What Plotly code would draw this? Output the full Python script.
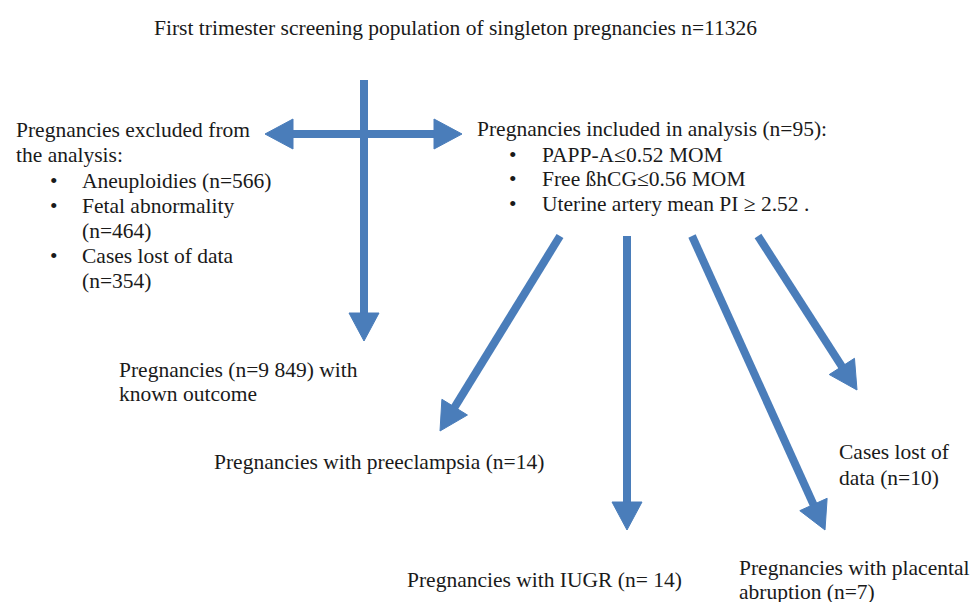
import numpy as np
import plotly.graph_objects as go

# ---- data (counts shown in the flowchart) ----
n_screened = 11326
n_aneuploidies = 566
n_fetal_abn = 464
n_lost_excl = 354
n_known_outcome = 9849
n_included = 95
n_preeclampsia = 14
n_iugr = 14
n_abruption = 7
n_lost_incl = 10
papp_a_cut = 0.52
bhcg_cut = 0.56
ut_pi_cut = 2.52

def fmt_space(n):
    return f"{n:,}".replace(",", " ")

title_text = f"First trimester screening population of singleton pregnancies n={n_screened}"
excluded_head = ["Pregnancies excluded from", "the analysis:"]
excluded_items = [f"Aneuploidies (n={n_aneuploidies})", "Fetal abnormality",
                  f"(n={n_fetal_abn})", "Cases lost of data", f"(n={n_lost_excl})"]
excluded_bullets = [True, True, False, True, False]
included_head = f"Pregnancies included in analysis (n={n_included}):"
included_items = [f"PAPP-A≤{papp_a_cut} MOM", f"Free ßhCG≤{bhcg_cut} MOM",
                  f"Uterine artery mean PI ≥ {ut_pi_cut} ."]
known_lines = [f"Pregnancies (n={fmt_space(n_known_outcome)}) with", "known outcome"]
pe_text = f"Pregnancies with preeclampsia (n={n_preeclampsia})"
iugr_text = f"Pregnancies with IUGR (n= {n_iugr})"
lost_lines = ["Cases lost of", f"data (n={n_lost_incl})"]
abr_lines = ["Pregnancies with placental", f"abruption (n={n_abruption})"]

# ---- layout (pixel coordinates of the diagram) ----
W, H = 975, 602
BLUE = "#4A7DBA"
FONT = "Liberation Serif, Times New Roman, serif"
FS = 21.5

fig = go.Figure()
shapes = []
annotations = []

def arrow(x0, y0, x1, y1, head_len=28, head_half=15, width=8, head_at_end=True, head_at_start=False):
    p0 = np.array([x0, y0], float)
    p1 = np.array([x1, y1], float)
    d = p1 - p0
    u = d / np.linalg.norm(d)
    a = p0 + u * head_len * 0.8 if head_at_start else p0
    b = p1 - u * head_len * 0.8 if head_at_end else p1
    shapes.append(dict(type="line", x0=a[0], y0=a[1], x1=b[0], y1=b[1],
                       line=dict(color=BLUE, width=width), layer="above"))
    ends = []
    if head_at_end:
        ends.append((p1, u))
    if head_at_start:
        ends.append((p0, -u))
    for tip, dirv in ends:
        base = tip - dirv * head_len
        n2 = np.array([-dirv[1], dirv[0]])
        l = base + n2 * head_half
        r = base - n2 * head_half
        path = f"M {tip[0]},{tip[1]} L {l[0]},{l[1]} L {r[0]},{r[1]} Z"
        shapes.append(dict(type="path", path=path, fillcolor=BLUE,
                           line=dict(color=BLUE, width=1), layer="above"))

# vertical trunk
arrow(364, 80, 364, 341)
# horizontal double arrow
arrow(265, 134, 462, 134, head_at_start=True)
# outcomes from included group
arrow(560, 236, 440, 431)
arrow(627, 236, 627, 530)
arrow(692, 236, 825, 530)
arrow(758, 236, 857, 390)

def text(x, y, s, anchor="left", size=FS):
    annotations.append(dict(x=x, y=y, text=s, showarrow=False, xanchor=anchor,
                            yanchor="middle", font=dict(family=FONT, size=size, color="#1a1a1a")))

text(455, 28, title_text, anchor="center", size=21.5)

for y, s in zip([130, 155], excluded_head):
    text(14, y, s)
for y, s, b in zip([181, 206, 231, 256, 281], excluded_items, excluded_bullets):
    if b:
        text(48, y, "•")
    text(80, y, s)

text(475, 129, included_head)
for y, s in zip([155, 179, 204], included_items):
    text(507, y, "•")
    text(540, y, s)

for y, s in zip([370, 394], known_lines):
    text(117, y, s)
text(212, 462, pe_text)
text(405, 580, iugr_text)
for y, s in zip([452, 478], lost_lines):
    text(837, y, s)
for y, s in zip([568, 592], abr_lines):
    text(737, y, s)

fig.update_layout(
    width=W, height=H,
    margin=dict(l=0, r=0, t=0, b=0),
    paper_bgcolor="white", plot_bgcolor="white",
    xaxis=dict(range=[0, W], visible=False, fixedrange=True),
    yaxis=dict(range=[H, 0], visible=False, fixedrange=True),
    shapes=shapes, annotations=annotations, showlegend=False,
)
fig.write_html("out.html", config={"displayModeBar": False},
               post_script="document.body.style.margin='0';document.body.style.overflow='hidden';")
